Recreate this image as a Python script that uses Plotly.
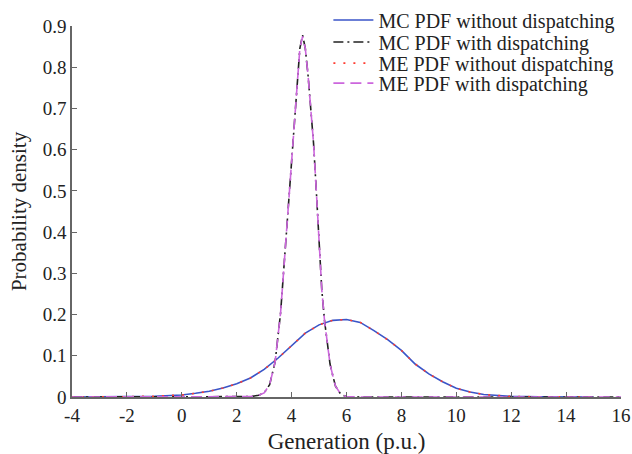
import plotly.graph_objects as go

# --- data ---
x_nodisp = [-4, -3, -2, -1, -0.5, 0, 0.5, 1, 1.5, 2, 2.5, 3, 3.5, 4, 4.5, 5, 5.5, 6,
            6.5, 7, 7.5, 8, 8.5, 9, 9.5, 10, 10.5, 11, 11.5, 12, 13, 14, 15]
mc_nodisp = [0, 0, 0.0008, 0.002, 0.003, 0.005, 0.009, 0.014, 0.022, 0.032, 0.046, 0.067,
             0.094, 0.125, 0.155, 0.175, 0.186, 0.188, 0.181, 0.161, 0.139, 0.113, 0.080,
             0.056, 0.037, 0.021, 0.012, 0.006, 0.003, 0.0015, 0.0004, 0.0001, 0]
me_nodisp = [0, 0, 0.0008, 0.002, 0.003, 0.005, 0.009, 0.014, 0.022, 0.032, 0.046, 0.067,
             0.094, 0.125, 0.155, 0.175, 0.186, 0.188, 0.181, 0.161, 0.139, 0.113, 0.080,
             0.056, 0.037, 0.021, 0.012, 0.006, 0.003, 0.0015, 0.0004, 0.0001, 0]

x_disp = [-4, 2, 2.5, 2.8, 3.0, 3.2, 3.4, 3.6, 3.8, 3.9, 4.0, 4.1, 4.2, 4.3, 4.4, 4.5,
          4.6, 4.7, 4.8, 4.9, 5.0, 5.1, 5.2, 5.3, 5.4, 5.5, 5.6, 5.8, 6.0, 6.5, 16]
mc_disp = [0, 0, 0.001, 0.004, 0.010, 0.030, 0.085, 0.205, 0.390, 0.475, 0.575, 0.680,
           0.775, 0.845, 0.878, 0.845, 0.780, 0.700, 0.615, 0.500, 0.370, 0.260, 0.185,
           0.125, 0.080, 0.052, 0.026, 0.006, 0.001, 0, 0]
me_disp = [0, 0, 0.001, 0.004, 0.010, 0.030, 0.085, 0.205, 0.390, 0.475, 0.575, 0.680,
           0.775, 0.845, 0.875, 0.845, 0.780, 0.700, 0.615, 0.500, 0.370, 0.260, 0.185,
           0.125, 0.080, 0.052, 0.026, 0.006, 0.001, 0, 0]

x_ticks = [-4, -2, 0, 2, 4, 6, 8, 10, 12, 14, 16]
x_tick_text = ["-4", "-2", "0", "2", "4", "6", "8", "10", "12", "14", "16"]
y_ticks = [0, 0.1, 0.2, 0.3, 0.4, 0.5, 0.6, 0.7, 0.8, 0.9]
y_tick_text = ["0", "0.1", "0.2", "0.3", "0.4", "0.5", "0.6", "0.7", "0.8", "0.9"]

names = ["MC PDF without dispatching", "MC PDF with dispatching",
         "ME PDF without dispatching", "ME PDF with dispatching"]

FONT = "Liberation Serif, Times New Roman, serif"

fig = go.Figure()
fig.add_trace(go.Scatter(x=x_nodisp, y=mc_nodisp, mode="lines", name=names[0], legend="legend",
                         line=dict(color="#3a55c8", width=1.6)))
fig.add_trace(go.Scatter(x=x_disp, y=mc_disp, mode="lines", name=names[1], legend="legend2",
                         line=dict(color="#222222", width=1.6, dash="10px,4px,2px,4px")))
fig.add_trace(go.Scatter(x=x_nodisp, y=me_nodisp, mode="lines", name=names[2], legend="legend3",
                         line=dict(color="#ff3b30", width=1.6, dash="2px,8px")))
fig.add_trace(go.Scatter(x=x_disp, y=me_disp, mode="lines", name=names[3], legend="legend4",
                         line=dict(color="#cc66dd", width=1.6, dash="11px,6px")))

axis_common = dict(
    showline=True, linecolor="#666666", linewidth=1.5,
    ticks="inside", ticklen=5, tickcolor="#666666", tickwidth=1.2,
    showgrid=False, zeroline=False,
    tickfont=dict(family=FONT, size=19, color="#222222"),
)

fig.update_xaxes(range=[-4, 16], tickvals=x_ticks, ticktext=x_tick_text,
                 title=dict(text="Generation (p.u.)", font=dict(family=FONT, size=23, color="#222222"),
                            standoff=12),
                 **axis_common)
fig.update_yaxes(range=[0, 0.9], tickvals=y_ticks, ticktext=y_tick_text,
                 title=dict(text="Probability density", font=dict(family=FONT, size=21, color="#222222"),
                            standoff=10),
                 **axis_common)

legend_style = dict(xanchor="left", yanchor="middle", x=0.467,
                    bgcolor="rgba(0,0,0,0)", borderwidth=0,
                    font=dict(family=FONT, size=20, color="#222222"), itemwidth=40)

fig.update_layout(
    width=632, height=454,
    margin=dict(l=72, r=11, t=26, b=57, autoexpand=False),
    paper_bgcolor="white", plot_bgcolor="white",
    font=dict(family=FONT, color="#222222"),
    showlegend=True,
    legend=dict(y=1.016, **legend_style),
    legend2=dict(y=0.957, **legend_style),
    legend3=dict(y=0.900, **legend_style),
    legend4=dict(y=0.846, **legend_style),
)

# remove the default page margin so the 632x454 figure fills the window exactly
fig.write_html(
    "out.html",
    config={"displayModeBar": False},
    post_script="document.body.style.margin='0';document.documentElement.style.overflow='hidden';",
)
